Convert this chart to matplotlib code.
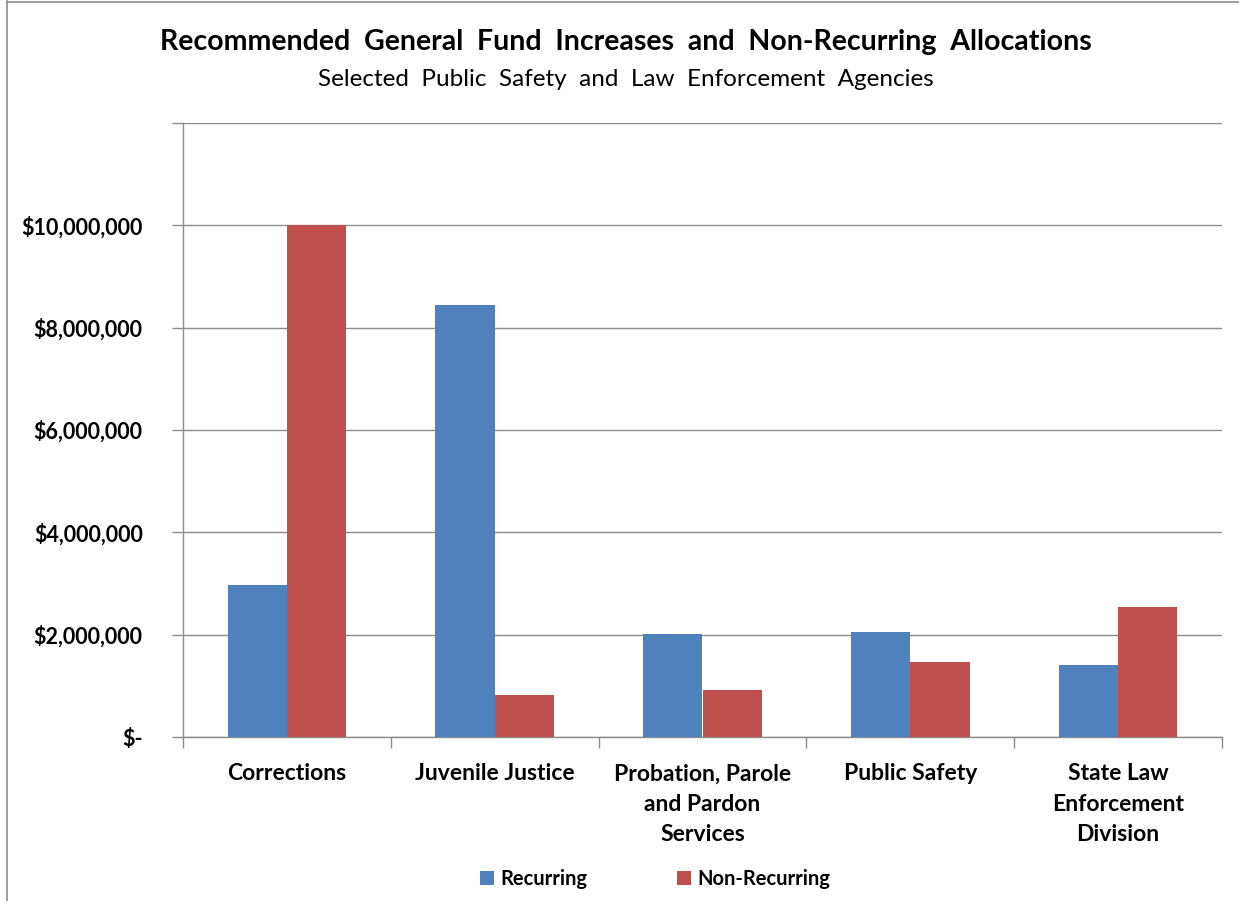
import matplotlib
matplotlib.use("Agg")
import matplotlib.pyplot as plt
import numpy as np
from matplotlib.lines import Line2D
from matplotlib.patches import Patch

categories = ["Corrections", "Juvenile Justice", "Probation, Parole\nand Pardon\nServices",
              "Public Safety", "State Law\nEnforcement\nDivision"]
recurring = [2970000, 8450000, 2020000, 2050000, 1410000]
non_recurring = [10000000, 820000, 920000, 1470000, 2540000]
y_ticks = [0, 2000000, 4000000, 6000000, 8000000, 10000000, 12000000]
y_labels = ["$-", "$2,000,000", "$4,000,000", "$6,000,000", "$8,000,000", "$10,000,000", ""]

BLUE = "#4f81bd"
RED = "#c0504d"
GRID = "#8c8c8c"

plt.rcParams["font.family"] = ["Lato", "DejaVu Sans"]

fig = plt.figure(figsize=(12.39, 9.01), dpi=100)
ax = fig.add_axes([183 / 1239, 1 - 737 / 901, (1222 - 183) / 1239, (737 - 123) / 901])

x = np.arange(len(categories))
w = 1 / 3.5
ax.bar(x - w / 2, recurring, width=w, color=BLUE, zorder=3)
ax.bar(x + w / 2, non_recurring, width=w, color=RED, zorder=3)

ax.set_xlim(-0.5, len(categories) - 0.5)
ax.set_ylim(0, 12000000)
ax.set_yticks(y_ticks)
ax.set_yticklabels(y_labels, fontsize=15.5, fontweight="bold")
ax.yaxis.grid(True, color=GRID, linewidth=1, zorder=0)

ax.set_xticks(x)
ax.set_xticklabels(categories, fontsize=16.5, fontweight="bold", linespacing=1.55, va="top")
ax.tick_params(axis="x", length=0, pad=19)
ax.set_xticks(np.arange(len(categories) + 1) - 0.5, minor=True)
ax.tick_params(axis="x", which="minor", length=8, color=GRID, width=1)
ax.tick_params(axis="y", length=8, color=GRID, width=1, pad=21)

for s in ["top", "right"]:
    ax.spines[s].set_visible(False)
for s in ["left", "bottom"]:
    ax.spines[s].set_color(GRID)
    ax.spines[s].set_linewidth(1)

fig.text(626 / 1239, 1 - 42 / 901, "Recommended  General  Fund  Increases  and  Non-Recurring  Allocations",
         ha="center", va="center", fontsize=20.5, fontweight="bold")
fig.text(626 / 1239, 1 - 80 / 901, "Selected  Public  Safety  and  Law  Enforcement  Agencies",
         ha="center", va="center", fontsize=17.5)

handles = [Patch(facecolor=BLUE), Patch(facecolor=RED)]
fig.legend(handles, ["Recurring", "Non-Recurring"], loc="center", bbox_to_anchor=(655 / 1239, 1 - 879 / 901),
           ncol=2, frameon=False, prop={"size": 14.5, "weight": "bold"}, handlelength=0.7, handleheight=0.7,
           handletextpad=0.3, columnspacing=4.45)

# chart border (left and top edges visible in the crop)
fig.add_artist(Line2D([7 / 1239, 7 / 1239], [0, 1 - 1 / 901], transform=fig.transFigure, color=GRID, linewidth=1.2))
fig.add_artist(Line2D([7 / 1239, 1], [1 - 1.5 / 901, 1 - 1.5 / 901], transform=fig.transFigure, color=GRID, linewidth=1.2))

fig.savefig("out.png", dpi=100)
